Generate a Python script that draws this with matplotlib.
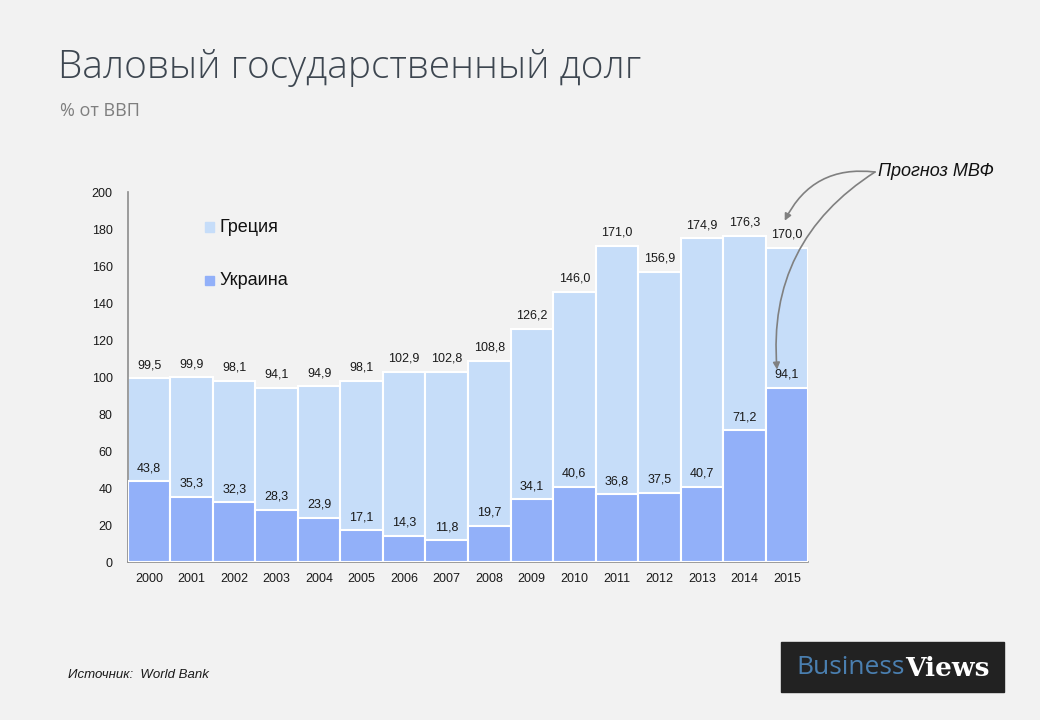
import matplotlib.pyplot as plt
from matplotlib.patches import Rectangle

years = [str(y) for y in range(2000, 2016)]
greece = [99.5, 99.9, 98.1, 94.1, 94.9, 98.1, 102.9, 102.8, 108.8, 126.2,
          146.0, 171.0, 156.9, 174.9, 176.3, 170.0]
ukraine = [43.8, 35.3, 32.3, 28.3, 23.9, 17.1, 14.3, 11.8, 19.7, 34.1,
           40.6, 36.8, 37.5, 40.7, 71.2, 94.1]

BG = "#f2f2f2"
C_GR = "#c6ddf9"
C_UA = "#92b0f9"


def fmt(v):
    return f"{v:.1f}".replace(".", ",")


fig = plt.figure(figsize=(10.4, 7.2), dpi=100, facecolor=BG)
ax = fig.add_axes([0.123, 0.2194, 0.654, 0.5139], facecolor=BG)

x = list(range(len(years)))
ax.bar(x, greece, width=1.0, color=C_GR, edgecolor="white", linewidth=1.5, zorder=2)
ax.bar(x, ukraine, width=1.0, color=C_UA, edgecolor="white", linewidth=1.5, zorder=3)

for i in x:
    ax.annotate(fmt(greece[i]), (i, greece[i]), xytext=(0, 5), textcoords="offset points",
                ha="center", va="bottom", fontsize=9, family="Liberation Sans", color="#1a1a1a")
    ax.annotate(fmt(ukraine[i]), (i, ukraine[i]), xytext=(0, 5), textcoords="offset points",
                ha="center", va="bottom", fontsize=9, family="Liberation Sans", color="#1a1a1a")

ax.set_xlim(-0.5, len(years) - 0.5)
ax.set_ylim(0, 200)
ax.set_yticks(range(0, 201, 20))
ax.set_xticks(x)
ax.set_xticklabels(years)
for lab in ax.get_xticklabels() + ax.get_yticklabels():
    lab.set_family("Liberation Sans")
    lab.set_fontsize(9)
    lab.set_color("#1a1a1a")
ax.tick_params(length=0, pad=8)
ax.tick_params(axis="y", pad=11)
for s in ["top", "right"]:
    ax.spines[s].set_visible(False)
for s in ["left", "bottom"]:
    ax.spines[s].set_color("#8c8c8c")
    ax.spines[s].set_linewidth(1.2)

# legend
for yy, col, name in [(0.905, C_GR, "Греция"), (0.76, C_UA, "Украина")]:
    ax.add_patch(Rectangle((0.113, yy - 0.012), 0.014, 0.026, transform=ax.transAxes,
                           color=col, zorder=5, clip_on=False))
    ax.text(0.135, yy, name, transform=ax.transAxes, fontsize=13,
            family="Liberation Sans", va="center", ha="left", color="#111111")

# annotation arrows
ax.annotate("", xy=(14.95, 184.5), xycoords="data",
            xytext=(875 / 1040, 1 - 172 / 720), textcoords="figure fraction",
            arrowprops=dict(arrowstyle="-|>", color="#808080", lw=1.2,
                            connectionstyle="arc3,rad=0.35", shrinkA=0, shrinkB=0))
ax.annotate("", xy=(14.77, 104), xycoords="data",
            xytext=(875 / 1040, 1 - 172 / 720), textcoords="figure fraction",
            arrowprops=dict(arrowstyle="-|>", color="#808080", lw=1.2,
                            connectionstyle="arc3,rad=0.3", shrinkA=0, shrinkB=0))
fig.text(878 / 1040, 1 - 172 / 720, "Прогноз МВФ", fontsize=13, style="italic",
         family="Liberation Sans", va="center", ha="left", color="#111111")

# titles
fig.text(58 / 1040, 1 - 68 / 720, "Валовый государственный долг", fontsize=28,
         family="Open Sans", fontweight="light", color="#3d4650", va="center", ha="left")
fig.text(60 / 1040, 1 - 111 / 720, "% от ВВП", fontsize=13, family="Open Sans",
         color="#7f7f7f", va="center", ha="left")

fig.text(68 / 1040, 1 - 675 / 720, "Источник:  World Bank", fontsize=9.5, style="italic",
         family="Liberation Sans", color="#1a1a1a", va="center", ha="left")

# logo
fig.patches.append(Rectangle((781 / 1040, 1 - 692 / 720), 223 / 1040, 50 / 720,
                             transform=fig.transFigure, color="#222222", zorder=1))
t1 = fig.text(796 / 1040, 1 - 668 / 720, "Business", fontsize=19, family="Open Sans",
              color="#4a7fb0", va="center", ha="left", zorder=2)
fig.canvas.draw()
bb = t1.get_window_extent()
fig.text(bb.x1 / 1040 + 0.001, 1 - 668 / 720, "Views", fontsize=19, family="DejaVu Serif",
         fontweight="bold", color="white", va="center", ha="left", zorder=2)

fig.savefig("out.png", dpi=100, facecolor=BG)
